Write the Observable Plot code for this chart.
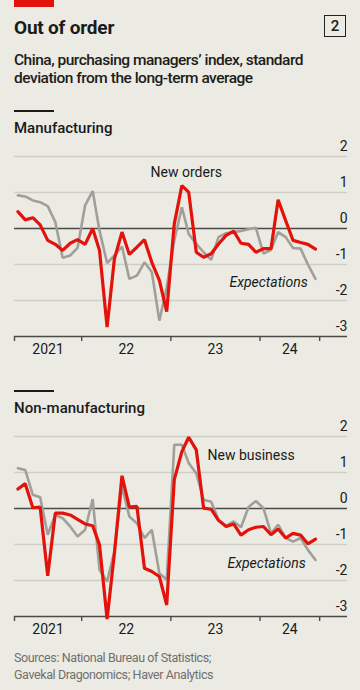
<!DOCTYPE html>
<html><head><meta charset="utf-8">
<script src="https://cdn.jsdelivr.net/npm/d3@7"></script>
<script src="https://cdn.jsdelivr.net/npm/@observablehq/plot@0.6"></script>
<style>
html,body{margin:0;padding:0;background:#ebeae3;}
#root{position:relative;width:360px;height:690px;background:#ebeae3;font-family:Roboto,"Noto Sans",sans-serif;color:#1a1a1a;overflow:hidden}
.abs{position:absolute}
.title{left:14px;top:18px;font-size:19px;font-weight:700;line-height:20px;white-space:nowrap;letter-spacing:-0.2px}
.box{left:324px;top:15px;width:20px;height:20px;border:1.3px solid #222;font-size:15px;line-height:20px;text-align:center;font-weight:500}
.subtitle{left:14px;top:51px;font-size:15.5px;font-weight:500;line-height:18px;letter-spacing:-0.5px;white-space:nowrap;color:#1d1d1b}
.rule{left:14px;width:40px;height:1.5px;background:#1a1a1a}
.section{left:14px;font-size:15px;font-weight:500;line-height:20px;white-space:nowrap}
.sources{left:14px;top:649px;font-size:12.5px;line-height:17px;color:#707070;white-space:nowrap;letter-spacing:-0.4px}
</style></head><body>
<div id="root">
 <div class="abs" style="left:14px;top:0;width:40px;height:6.5px;background:#e3120b"></div>
 <div class="abs title">Out of order</div>
 <div class="abs box">2</div>
 <div class="abs subtitle">China, purchasing managers’ index, standard<br>deviation from the long-term average</div>
 <div class="abs rule" style="top:110px"></div>
 <div class="abs section" style="top:118px">Manufacturing</div>
 <div class="abs" id="chart1" style="top:140px;left:0"></div>
 <div class="abs rule" style="top:390px"></div>
 <div class="abs section" style="top:398px">Non-manufacturing</div>
 <div class="abs" id="chart2" style="top:420px;left:0"></div>
 <div class="abs sources">Sources: National Bureau of Statistics;<br>Gavekal Dragonomics; Haver Analytics</div>
</div>
<script>
// ---- data ----
const months = ["2021-04","2021-05","2021-06","2021-07","2021-08","2021-09","2021-10","2021-11","2021-12",
 "2022-01","2022-02","2022-03","2022-04","2022-05","2022-06","2022-07","2022-08","2022-09","2022-10","2022-11","2022-12",
 "2023-01","2023-02","2023-03","2023-04","2023-05","2023-06","2023-07","2023-08","2023-09","2023-10","2023-11","2023-12",
 "2024-01","2024-02","2024-03","2024-04","2024-05","2024-06","2024-07","2024-08"];

const mfgNewOrders = [0.47,0.24,0.30,0.10,-0.33,-0.44,-0.61,-0.41,-0.31,-0.44,0.00,-0.61,-2.74,-0.84,-0.10,-0.72,-0.52,-0.31,-0.94,-1.44,-2.31,0.13,1.19,1.01,-0.66,-0.80,-0.70,-0.43,-0.19,-0.07,-0.41,-0.44,-0.66,-0.56,-0.56,0.80,0.22,-0.33,-0.39,-0.44,-0.57];
const mfgExpectations = [0.92,0.89,0.78,0.73,0.62,0.18,-0.81,-0.75,-0.54,0.64,1.04,-0.06,-0.96,-0.75,-0.50,-1.40,-1.31,-0.94,-1.21,-2.56,-1.63,-0.33,0.59,-0.15,-0.43,-0.66,-0.87,-0.24,-0.13,-0.10,-0.07,-0.02,0.02,-0.70,-0.59,-0.10,-0.24,-0.54,-0.56,-1.00,-1.40];

const nonNewBusiness = [0.54,0.69,0.02,0.04,-1.87,-0.13,-0.13,-0.18,-0.30,-0.43,-0.48,-1.01,-3.07,-1.24,0.91,0.04,0.06,-1.66,-1.75,-1.89,-2.68,0.80,1.58,1.98,1.63,0.01,-0.02,-0.33,-0.50,-0.43,-0.74,-0.59,-0.52,-0.50,-0.73,-0.57,-0.82,-0.69,-0.74,-0.98,-0.85];
const nonExpectations = [1.12,1.07,0.38,0.31,-0.73,-0.18,-0.27,-0.50,-0.78,-0.59,0.26,-1.70,-2.03,-1.19,0.61,-0.22,-0.41,-0.82,-0.59,-1.80,-1.98,1.77,1.77,1.26,0.98,0.24,0.19,-0.31,-0.48,-0.36,-0.52,0.04,0.21,0.01,-0.69,-0.45,-0.82,-0.92,-0.82,-1.15,-1.43];

const yTicks = [2, 1, 0, -1, -2, -3];
const xTicks = ["2021-04-01","2022-01-01","2023-01-01","2024-01-01","2024-09-01"];
const yearLabels = ["2021","22","23","24"];
const xDomain = ["2021-04-01","2024-12-24"];

const mfgLabels = [{text:"New orders", date:"2022-10-10", value:1.55, italic:false},
                   {text:"Expectations", date:"2024-07-14", value:-1.51, italic:true}];
const nonLabels = [{text:"New business", date:"2023-05-31", value:1.48, italic:false},
                   {text:"Expectations", date:"2024-07-06", value:-1.54, italic:true}];

// ---- helpers ----
const RED = "#e3120b", GREY = "#a09f99";
const monthDate = s => new Date(Date.UTC(+s.slice(0,4), +s.slice(5,7)-1, 15));
const dayDate = s => new Date(s + "T00:00:00Z");
const tickDates = xTicks.map(dayDate);
const yearMids = yearLabels.map((t, i) => ({text: t, date: new Date((+tickDates[i] + +tickDates[i+1]) / 2)}));

function chart(newVals, expVals, labels) {
  const rows = months.map((m, i) => ({date: monthDate(m), nv: newVals[i], ev: expVals[i]}));
  const lab = labels.map(d => ({...d, date: dayDate(d.date)}));
  return Plot.plot({
    width: 360, height: 226,
    marginLeft: 14, marginRight: 13, marginTop: 16, marginBottom: 30,
    style: {background: "transparent", fontFamily: "Roboto, sans-serif", fontSize: "14px", color: "#1a1a1a", overflow: "visible"},
    x: {type: "utc", domain: xDomain.map(dayDate), axis: null},
    y: {domain: [-3, 2], axis: null},
    marks: [
      Plot.ruleY(yTicks.filter(v => v !== 0 && v !== -3), {stroke: "#cfcec6", strokeWidth: 1.3}),
      Plot.ruleY([0], {stroke: "#4a4a47", strokeWidth: 1.4}),
      Plot.ruleY([-3], {stroke: "#4a4a47", strokeWidth: 1.4}),
      Plot.axisX({ticks: tickDates, tickSize: 5, tickFormat: () => "", label: null, stroke: "#4a4a47", strokeWidth: 1.4}),
      Plot.text(yTicks, {y: d => d, text: d => d < 0 ? "-" + Math.abs(d) : String(d), frameAnchor: "right", textAnchor: "end", dy: -10, fontSize: 14, fill: "#1a1a1a"}),
      Plot.text(yearMids, {x: "date", text: "text", frameAnchor: "bottom", dy: 17, fontSize: 14, fill: "#1a1a1a"}),
      Plot.line(rows, {x: "date", y: "ev", stroke: GREY, strokeWidth: 2.6, strokeLinejoin: "miter", curve: "linear"}),
      Plot.line(rows, {x: "date", y: "nv", stroke: RED, strokeWidth: 3.2, strokeLinejoin: "miter", curve: "linear"}),
      Plot.text(lab.filter(d => !d.italic), {x: "date", y: "value", text: "text", textAnchor: "start", fontSize: 14, fill: "#1a1a1a"}),
      Plot.text(lab.filter(d => d.italic), {x: "date", y: "value", text: "text", textAnchor: "end", fontSize: 14, fontStyle: "italic", fill: "#1a1a1a"})
    ]
  });
}

document.getElementById("chart1").appendChild(chart(mfgNewOrders, mfgExpectations, mfgLabels));
document.getElementById("chart2").appendChild(chart(nonNewBusiness, nonExpectations, nonLabels));
</script>
</body></html>
